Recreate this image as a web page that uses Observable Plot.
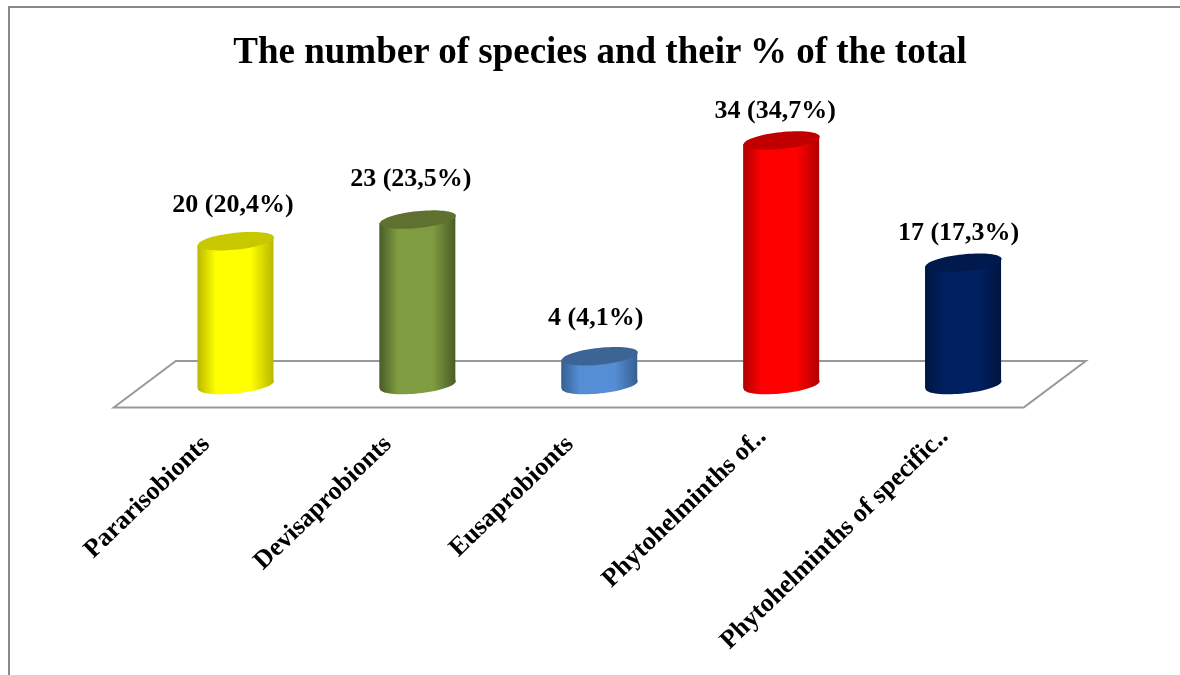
<!DOCTYPE html>
<html>
<head>
<meta charset="utf-8">
<script src="https://cdn.jsdelivr.net/npm/d3@7"></script>
<script src="https://cdn.jsdelivr.net/npm/@observablehq/plot@0.6"></script>
<style>
html,body{margin:0;padding:0;background:#fff;overflow:hidden}
#frame{position:fixed;left:8px;top:6px;width:1172px;height:669px;box-sizing:border-box;border-left:2px solid #888;border-top:2px solid #888;overflow:hidden}
#title{box-sizing:border-box;width:1170px;height:67px;padding:19px 0 0 10px;text-align:center;font:bold 37px/48px "Liberation Serif",serif;color:#000}
svg{display:block}
</style>
</head>
<body>
<div id="frame"><div id="title">The number of species and their % of the total</div></div>
<script>
const categories = ["Pararisobionts","Devisaprobionts","Eusaprobionts","Phytohelminths of‥","Phytohelminths of specific‥"];
const counts = [20,23,4,34,17];
const percents = ["20,4","23,5","4,1","34,7","17,3"];

// styling (not data)
const bodyEdge   = ["#b8b800","#4a5c26","#365f91","#b00000","#001540"];
const bodyMid    = ["#ffff00","#7f9c41","#558ed5","#ff0000","#002060"];
const capColor   = ["#c8c800","#607030","#3c6494","#c00000","#001a4d"];
const labelDx = [-3,-7,-4,-6.5,-5];
const labelDy = [-38,-42,-40,-31,-31];
const tilt = 6 * Math.PI / 180;

const rows = categories.map((category,i)=>({category,count:counts[i],label:`${counts[i]} (${percents[i]}%)`,i}));

const ellipse = {draw(ctx,size){
  const r=Math.sqrt(size/Math.PI), ry=r*0.22, c=Math.cos(tilt), s=Math.sin(tilt);
  for(let k=0;k<=72;k++){
    const t=k/72*2*Math.PI, a=r*Math.cos(t), b=ry*Math.sin(t);
    const px=a*c+b*s, py=-a*s+b*c;
    k?ctx.lineTo(px,py):ctx.moveTo(px,py);
  }
  ctx.closePath();
}};
const floorShape = {draw(ctx,size){
  const r=Math.sqrt(size/Math.PI), sx=r*0.0682, h=r*0.0511;
  ctx.moveTo(-r-sx,h); ctx.lineTo(-r+sx,-h); ctx.lineTo(r+sx,-h); ctx.lineTo(r-sx,h); ctx.closePath();
}};

const gradients = () => {
  const defs=d3.create("svg:defs");
  rows.forEach(d=>{
    const g=defs.append("linearGradient").attr("id",`cyl${d.i}`).attr("x1",0).attr("x2",1).attr("y1",0).attr("y2",0);
    [[0,bodyEdge[d.i]],[0.24,bodyMid[d.i]],[0.7,bodyMid[d.i]],[1,bodyEdge[d.i]]].forEach(([o,c])=>g.append("stop").attr("offset",o).attr("stop-color",c));
  });
  return defs.node();
};

const skewBars = (index,scales,values,dims,ctx,next)=>{
  const g=next(index,scales,values,dims,ctx);
  d3.select(g).selectAll("rect").each(function(){
    const cx=+this.getAttribute("x")+(+this.getAttribute("width"))/2;
    this.setAttribute("transform",`translate(${cx},0) skewY(-6) translate(${-cx},0)`);
  });
  return g;
};

const fontFamily='"Liberation Serif",serif';
const axisStyle={anchor:"bottom",tickSize:0,tickPadding:6,tickRotate:-44,fontSize:26,fontWeight:"bold",fontFamily,color:"#000",label:null};
const chart=Plot.plot({
  width:1170,height:600,
  marginLeft:0,marginRight:0,marginTop:0,marginBottom:255,
  style:{background:"transparent",overflow:"visible"},
  x:{type:"band",domain:categories,range:[134.5,1044],paddingInner:0.582,paddingOuter:0.291,align:0.5,round:false,axis:null},
  y:{domain:[0,34],range:[309.5,65],axis:null},
  color:{type:"identity"},
  marks:[
    gradients,
    Plot.dot([{category:categories[2],v:0}],{x:"category",y:"v",r:455,symbol:floorShape,fill:"none",stroke:"#999",strokeWidth:2,dy:-0.7}),
    Plot.dot(rows,{x:"category",y:()=>0,r:38.2,symbol:ellipse,fill:d=>`url(#cyl${d.i})`,stroke:"none"}),
    Plot.barY(rows,{x:"category",y:"count",fill:d=>`url(#cyl${d.i})`,render:skewBars}),
    Plot.dot(rows,{x:"category",y:"count",r:38.2,symbol:ellipse,fill:d=>capColor[d.i],stroke:"none"}),
    ...rows.map(d=>Plot.text([d],{x:"category",y:"count",text:"label",dx:labelDx[d.i],dy:labelDy[d.i],fontSize:26,fontWeight:"bold",fontFamily,fill:"#000"})),
    Plot.axisX({...axisStyle,ticks:categories.slice(0,3),dx:-31,dy:13}),
    Plot.axisX({...axisStyle,ticks:categories.slice(3),dx:-20,dy:5})
  ]
});
document.getElementById("frame").appendChild(chart);
</script>
</body>
</html>
